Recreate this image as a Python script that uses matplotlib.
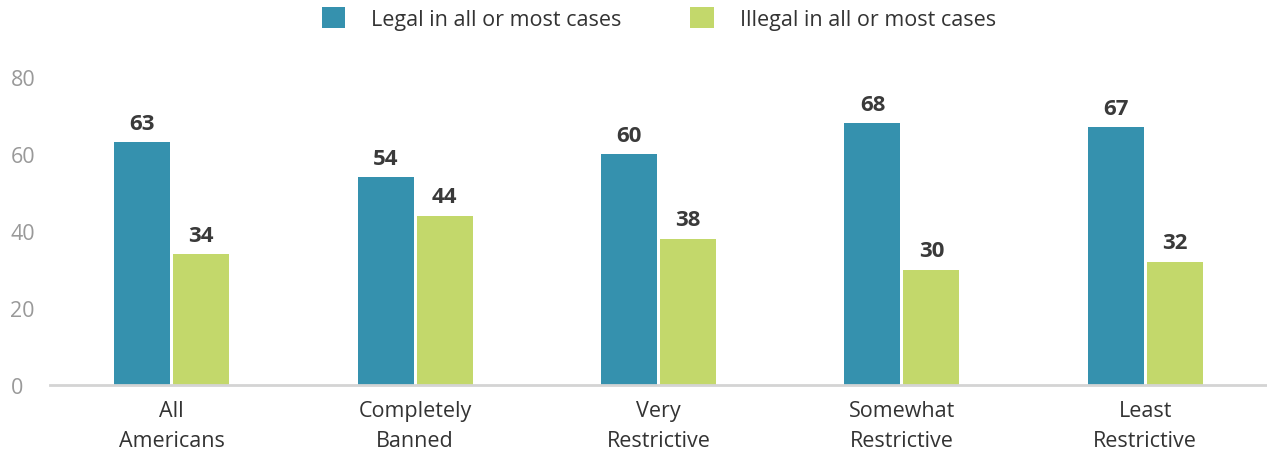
import matplotlib.pyplot as plt
import numpy as np

plt.rcParams['font.family'] = ['Open Sans', 'DejaVu Sans']

categories = ["All\nAmericans", "Completely\nBanned", "Very\nRestrictive",
              "Somewhat\nRestrictive", "Least\nRestrictive"]
legal = [63, 54, 60, 68, 67]
illegal = [34, 44, 38, 30, 32]
series_names = ["Legal in all or most cases", "Illegal in all or most cases"]
colors = ["#3591AE", "#C3D86B"]

fig = plt.figure(figsize=(12.67, 4.52), dpi=100)
ax = fig.add_axes([0.0395, 0.146, 0.9605, 0.6814])

x = np.arange(len(categories))
w = 0.23
off = 0.121
b1 = ax.bar(x - off, legal, w, color=colors[0], label=series_names[0])
b2 = ax.bar(x + off, illegal, w, color=colors[1], label=series_names[1])

for bars in (b1, b2):
    for r in bars:
        ax.annotate(str(int(r.get_height())), (r.get_x() + r.get_width() / 2, r.get_height()),
                    xytext=(0, 6), textcoords="offset points", ha="center", va="bottom",
                    fontsize=16, fontweight="bold", color="#3a3a3a")

ax.set_xlim(-0.5, 4.5)
ax.set_ylim(0, 80)
ax.set_yticks([0, 20, 40, 60, 80])
ax.set_xticks(x)
ax.set_xticklabels(categories, fontsize=15.5, color="#333333", linespacing=1.55)
ax.tick_params(axis="y", labelsize=15.5, labelcolor="#999999", length=0)
ax.tick_params(axis="x", length=0, pad=11)
for s in ["top", "right", "left"]:
    ax.spines[s].set_visible(False)
ax.spines["bottom"].set_color("#d4d4d4")
ax.spines["bottom"].set_linewidth(2)
for lbl in ax.get_yticklabels():
    lbl.set_horizontalalignment("left")
    lbl.set_x(-0.0395 + 0.007)
ax.tick_params(axis="y", pad=0)

fig.legend(handles=[b1, b2], loc="upper center", bbox_to_anchor=(0.52, 1.025), ncol=2,
           frameon=False, fontsize=15.5, handlelength=1.1, handleheight=1.1,
           columnspacing=3.2, handletextpad=1.2, labelcolor="#333333")

fig.savefig("out.png", dpi=100)
